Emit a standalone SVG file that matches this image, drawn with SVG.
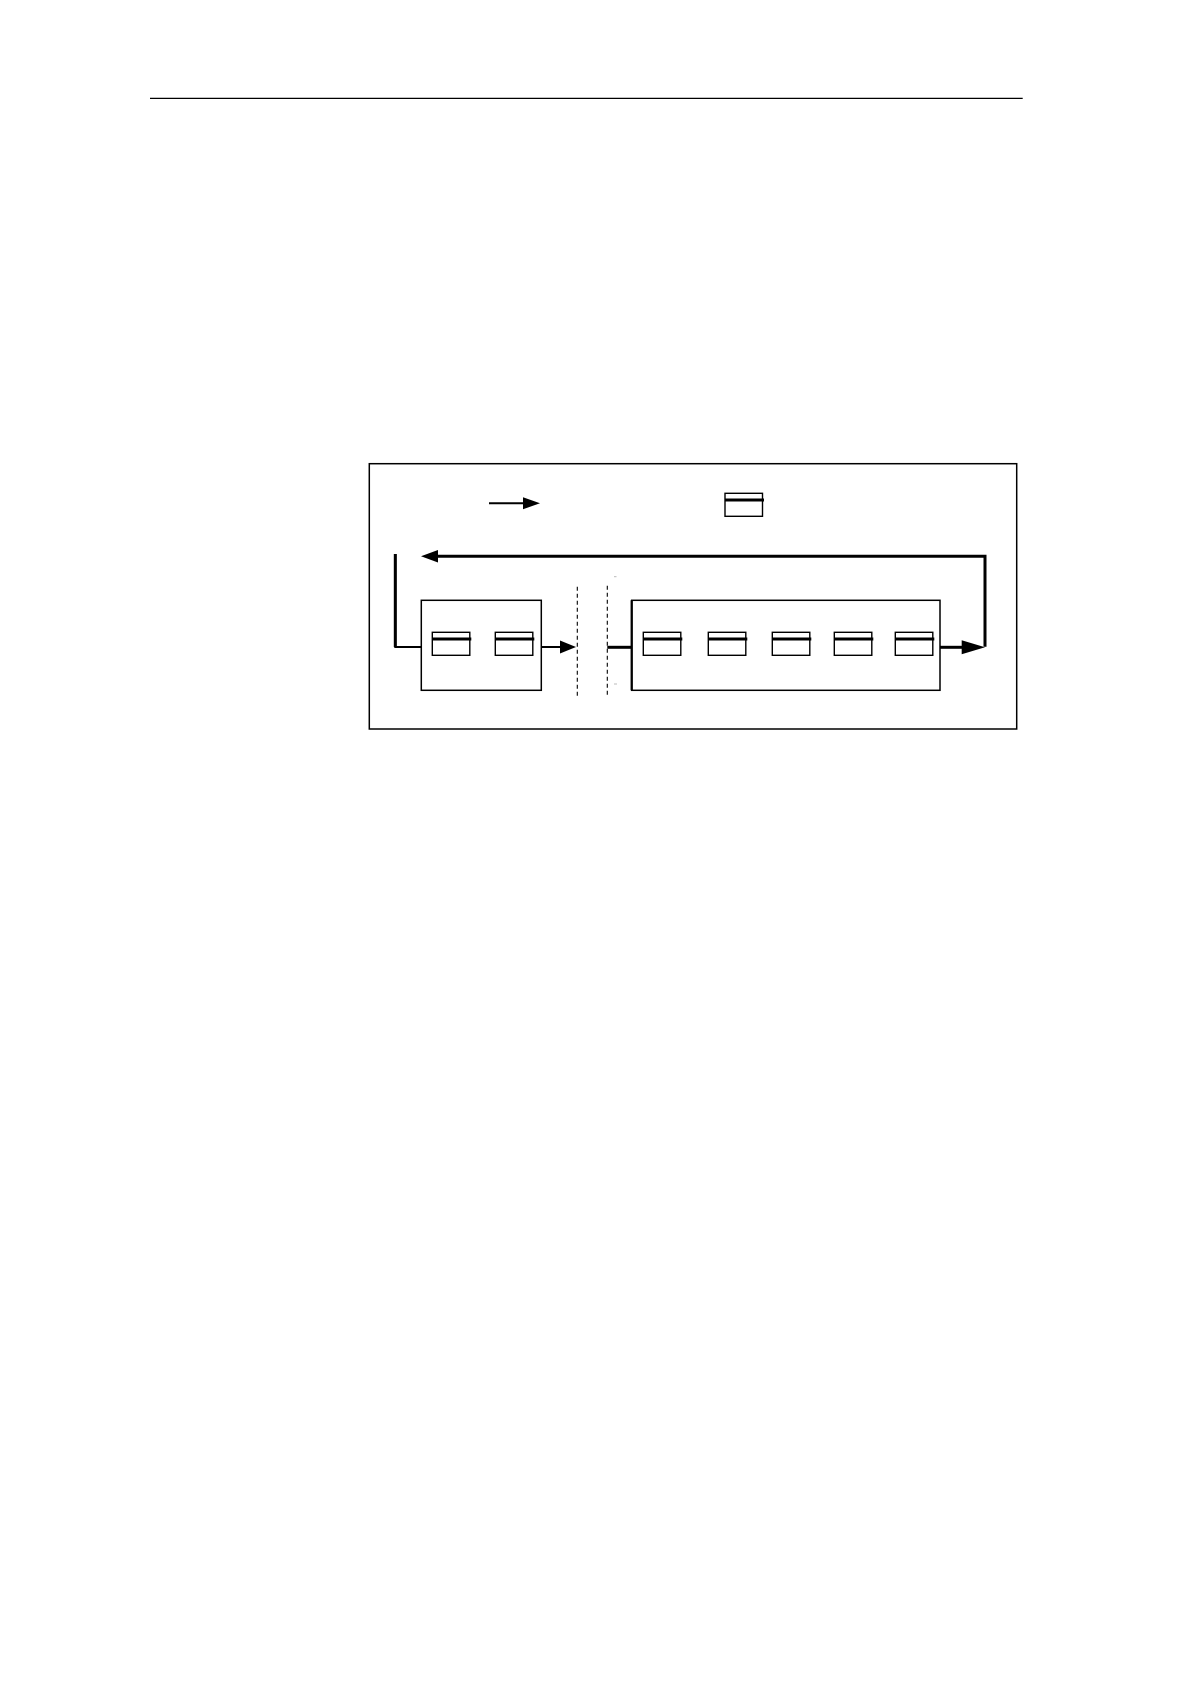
<svg xmlns="http://www.w3.org/2000/svg" width="1190" height="1684" viewBox="0 0 1190 1684">
<style>
.frame{fill:none;stroke:#000;stroke-width:1.5}
.block{fill:#fff;stroke:#000;stroke-width:1.5}
.cell{fill:#fff;stroke:#000;stroke-width:1.4}
.cellbar{stroke:#000;stroke-width:2.8}
.conn{fill:none;stroke:#000;stroke-width:3}
.thin{fill:none;stroke:#000;stroke-width:2}
.dash{fill:none;stroke:#000;stroke-width:1.1;stroke-dasharray:4,3}
.head{fill:#000}
.mark{stroke:#bbb;stroke-width:1}
</style>
<defs>
<g id="cellshape">
<rect class="cell" x="0" y="0" width="37.5" height="23"/>
<line class="cellbar" x1="0" y1="6.7" x2="39" y2="6.7"/>
</g>
</defs>
<rect width="1190" height="1684" fill="#fff"/>
<line x1="150" y1="98.3" x2="1022.7" y2="98.3" stroke="#000" stroke-width="1.2"/>
<rect id="outer-frame" class="frame" x="369.3" y="463.7" width="647.4" height="265.3"/>
<g id="legend-arrow">
<line x1="489" y1="503.3" x2="525" y2="503.3" stroke="#000" stroke-width="2"/>
<polygon class="head" points="523,497.3 540,503.3 523,509.3"/>
</g>
<g id="legend-cell">
<use href="#cellshape" x="725" y="493.3"/>
</g>
<g id="block-left">
<rect class="block" x="421.3" y="600.3" width="120" height="90"/>
<use href="#cellshape" x="432.3" y="632.3"/>
<use href="#cellshape" x="495.3" y="632.3"/>
</g>
<g id="block-right">
<rect class="block" x="631.7" y="600.3" width="308.3" height="90"/>
<line x1="631.7" y1="600.3" x2="631.7" y2="690.3" stroke="#000" stroke-width="2.2"/>
<use href="#cellshape" x="643.3" y="632.3"/>
<use href="#cellshape" x="708.3" y="632.3"/>
<use href="#cellshape" x="772.3" y="632.3"/>
<use href="#cellshape" x="834.3" y="632.3"/>
<use href="#cellshape" x="895.3" y="632.3"/>
</g>
<g id="boundary">
<line class="dash" x1="577.3" y1="586.7" x2="577.3" y2="697.3"/>
<line class="dash" x1="607.3" y1="585.7" x2="607.3" y2="695.7"/>
<line class="mark" x1="614" y1="576.7" x2="616.5" y2="576.7"/>
<line class="mark" x1="614" y1="684" x2="617" y2="684"/>
</g>
<g id="connectors">
<polyline class="conn" points="985,646.7 985,556.3 436,556.3"/>
<polygon class="head" points="438,550 421,556.3 438,562.6"/>
<polyline class="thin" points="395.3,554 395.3,647 421.3,647"/>
<line x1="395.3" y1="554" x2="395.3" y2="647" stroke="#000" stroke-width="3"/>
<line class="thin" x1="541.3" y1="647" x2="562" y2="647"/>
<polygon class="head" points="560,640.5 576,647 560,653.5"/>
<line class="conn" x1="607.3" y1="647.3" x2="631.7" y2="647.3"/>
<line class="conn" x1="940" y1="647.3" x2="963" y2="647.3"/>
<polygon class="head" points="961.7,640.3 985,647.3 961.7,654.3"/>
</g>
</svg>
